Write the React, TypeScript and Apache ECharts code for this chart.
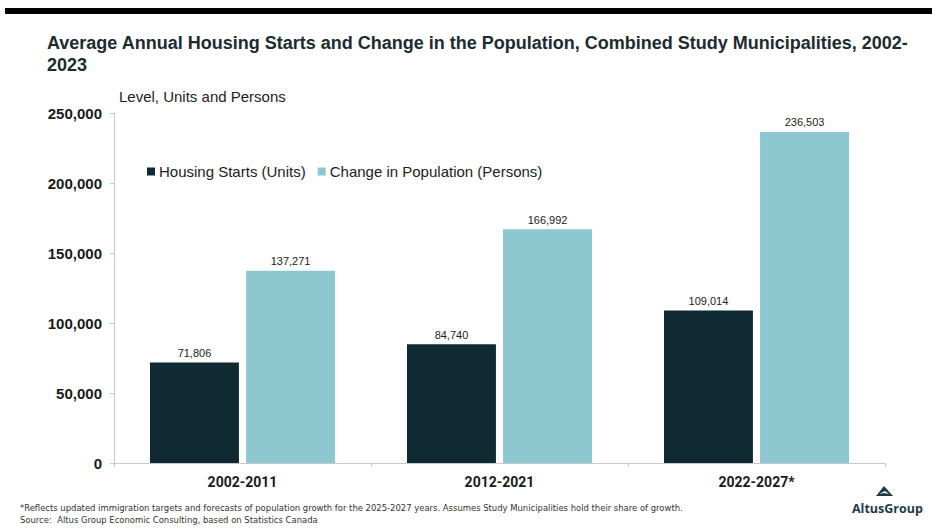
import React, { useEffect, useRef } from "react";
import * as echarts from "echarts";

const categories = ["2002-2011", "2012-2021", "2022-2027*"];
const housingStarts = [71806, 84740, 109014];
const populationChange = [137271, 166992, 236503];
const seriesNames = ["Housing Starts (Units)", "Change in Population (Persons)"];
const yTicks = [0, 50000, 100000, 150000, 200000, 250000];

const titleText =
  "Average Annual Housing Starts and Change in the Population, Combined Study Municipalities, 2002-\n2023";
const axisName = "Level, Units and Persons";
const footnote1 =
  "*Reflects updated immigration targets and forecasts of population growth for the 2025-2027 years. Assumes Study Municipalities hold their share of growth.";
const footnote2 = "Source:  Altus Group Economic Consulting, based on Statistics Canada";

const DARK = "#0f2a33";
const LIGHT = "#8dc7cf";
const fmt = (v: number) => v.toLocaleString("en-US");

export default function App() {
  const ref = useRef<HTMLDivElement>(null);
  useEffect(() => {
    if (!ref.current) return;
    const chart = echarts.init(ref.current, null, { renderer: "svg" });
    chart.setOption({
      animation: false,
      backgroundColor: "#ffffff",
      textStyle: { fontFamily: "Liberation Sans, Arial, sans-serif" },
      title: {
        text: titleText,
        left: 42,
        top: 27,
        textStyle: {
          fontSize: 18,
          fontWeight: "bold",
          color: "#1c2b30",
          lineHeight: 22,
          fontFamily: "Liberation Sans, Arial, sans-serif",
        },
      },
      legend: {
        left: 142,
        top: 159,
        itemWidth: 8,
        itemHeight: 8,
        itemGap: 12,
        icon: "rect",
        textStyle: { fontSize: 15, color: "#222", padding: [0, 0, 0, -1] },
        data: seriesNames,
      },
      grid: { left: 114, right: 47, top: 113, bottom: 66, containLabel: false },
      xAxis: {
        type: "category",
        data: categories,
        axisLine: { show: true, lineStyle: { color: "#c8c8c8", width: 1 } },
        axisTick: { show: true, length: 4, lineStyle: { color: "#c8c8c8" } },
        axisLabel: {
          fontSize: 14,
          fontWeight: "bold",
          color: "#1a1a1a",
          margin: 12,
          fontFamily: "Roboto, Liberation Sans, sans-serif",
        },
      },
      yAxis: {
        type: "value",
        min: 0,
        max: 250000,
        interval: 50000,
        name: axisName,
        nameLocation: "end",
        nameGap: 9,
        nameTextStyle: { fontSize: 15, color: "#222", align: "left", padding: [0, 0, 0, 5] },
        axisLine: { show: true, lineStyle: { color: "#c8c8c8", width: 1 } },
        axisTick: { show: true, length: 4, inside: false, lineStyle: { color: "#c8c8c8" } },
        splitLine: { show: false },
        axisLabel: {
          fontSize: 15,
          fontWeight: "bold",
          color: "#1a1a1a",
          margin: 12,
          formatter: (v: number) => (yTicks.includes(v) ? fmt(v) : ""),
        },
      },
      series: [
        {
          name: seriesNames[0],
          type: "bar",
          data: housingStarts,
          itemStyle: { color: DARK },
          barGap: "8%",
          barCategoryGap: "28%",
          label: {
            show: true,
            position: "top",
            distance: 4,
            fontSize: 11,
            color: "#222",
            formatter: (p: any) => fmt(p.value),
          },
        },
        {
          name: seriesNames[1],
          type: "bar",
          data: populationChange,
          itemStyle: { color: LIGHT },
          barGap: "8%",
          barCategoryGap: "28%",
          label: {
            show: true,
            position: "top",
            distance: 4,
            fontSize: 11,
            color: "#222",
            formatter: (p: any) => fmt(p.value),
          },
        },
      ],
      graphic: [
        { type: "rect", shape: { x: 5, y: 8, width: 927, height: 6 }, style: { fill: "#000" } },
        {
          type: "text",
          left: 20,
          top: 503,
          style: {
            text: footnote1,
            fontSize: 9.4,
            fill: "#333",
            fontFamily: "Liberation Sans Narrow, DejaVu Sans Condensed, sans-serif",
          },
        },
        {
          type: "text",
          left: 20,
          top: 515,
          style: {
            text: footnote2,
            fontSize: 9.4,
            fill: "#333",
            fontFamily: "Liberation Sans Narrow, DejaVu Sans Condensed, sans-serif",
          },
        },
        {
          type: "polygon",
          shape: { points: [[884, 486], [876, 496], [893, 496]] },
          style: { fill: "#1d3b47" },
        },
        {
          type: "polygon",
          shape: { points: [[879, 494], [885, 491], [889, 494], [884, 493]] },
          style: { fill: "#ffffff" },
        },
        {
          type: "text",
          left: 852,
          top: 502,
          style: {
            text: "AltusGroup",
            fontSize: 12.5,
            fontWeight: "bold",
            fill: "#1d3b47",
            fontFamily: "Open Sans, Liberation Sans, sans-serif",
          },
        },
      ],
    });
    return () => chart.dispose();
  }, []);
  return <div ref={ref} style={{ width: 932, height: 529, position: "absolute", left: 0, top: 0 }} />;
}
